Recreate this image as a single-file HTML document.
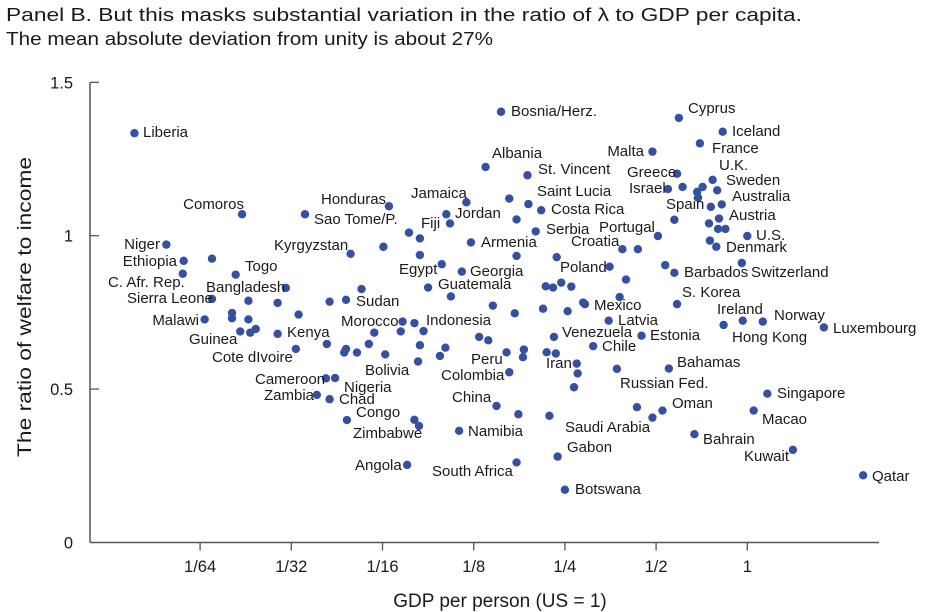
<!DOCTYPE html>
<html><head><meta charset="utf-8">
<style>
html,body{margin:0;padding:0;background:#fff;}
svg{display:block;font-family:"Liberation Sans",Arial,sans-serif;}
.lbl{font-size:15px;fill:#1a1a1a;}
</style></head>
<body>
<svg id="chart" width="930" height="612" viewBox="0 0 930 612">
<text x="6" y="21" font-size="18.5" fill="#1a1a1a" textLength="796" lengthAdjust="spacingAndGlyphs">Panel B. But this masks substantial variation in the ratio of λ to GDP per capita.</text>
<text x="6" y="45" font-size="18.5" fill="#1a1a1a" textLength="487" lengthAdjust="spacingAndGlyphs">The mean absolute deviation from unity is about 27%</text>
<text transform="translate(31,307) rotate(-90)" text-anchor="middle" font-size="19.5" fill="#1a1a1a" textLength="300" lengthAdjust="spacingAndGlyphs">The ratio of welfare to income</text>
<text x="500" y="607" text-anchor="middle" font-size="19" fill="#1a1a1a">GDP per person (US = 1)</text>
<g id="axes"></g>
<g id="dots"></g>
<g id="labels" class="lbl">
<text x="143" y="137">Liberia</text>
<text x="244" y="209" text-anchor="end">Comoros</text>
<text x="321" y="204">Honduras</text>
<text x="314" y="224">Sao Tome/P.</text>
<text x="411" y="198">Jamaica</text>
<text x="421" y="228">Fiji</text>
<text x="455" y="218">Jordan</text>
<text x="160" y="249" text-anchor="end">Niger</text>
<text x="177" y="266" text-anchor="end">Ethiopia</text>
<text x="274" y="250">Kyrgyzstan</text>
<text x="245" y="271">Togo</text>
<text x="108" y="287">C. Afr. Rep.</text>
<text x="206" y="292">Bangladesh</text>
<text x="127" y="303">Sierra Leone</text>
<text x="399" y="274">Egypt</text>
<text x="470" y="276">Georgia</text>
<text x="438" y="289">Guatemala</text>
<text x="356" y="306">Sudan</text>
<text x="481" y="247">Armenia</text>
<text x="199" y="325" text-anchor="end">Malawi</text>
<text x="189" y="344">Guinea</text>
<text x="287" y="337">Kenya</text>
<text x="212" y="362">Cote dIvoire</text>
<text x="341" y="326">Morocco</text>
<text x="426" y="325">Indonesia</text>
<text x="365" y="375">Bolivia</text>
<text x="471" y="364">Peru</text>
<text x="441" y="380">Colombia</text>
<text x="255" y="384">Cameroon</text>
<text x="344" y="392">Nigeria</text>
<text x="264" y="400">Zambia</text>
<text x="339" y="404">Chad</text>
<text x="356" y="417">Congo</text>
<text x="353" y="438">Zimbabwe</text>
<text x="452" y="402">China</text>
<text x="468" y="436">Namibia</text>
<text x="355" y="470">Angola</text>
<text x="432" y="476">South Africa</text>
<text x="511" y="116">Bosnia/Herz.</text>
<text x="688" y="113">Cyprus</text>
<text x="732" y="136">Iceland</text>
<text x="712" y="153">France</text>
<text x="644" y="156" text-anchor="end">Malta</text>
<text x="492" y="158">Albania</text>
<text x="538" y="174">St. Vincent</text>
<text x="627" y="177">Greece</text>
<text x="719" y="170">U.K.</text>
<text x="726" y="185">Sweden</text>
<text x="629" y="193">Israel</text>
<text x="537" y="196">Saint Lucia</text>
<text x="732" y="201">Australia</text>
<text x="551" y="214">Costa Rica</text>
<text x="666" y="209">Spain</text>
<text x="729" y="220">Austria</text>
<text x="546" y="234">Serbia</text>
<text x="599" y="232">Portugal</text>
<text x="756" y="240">U.S.</text>
<text x="571" y="246">Croatia</text>
<text x="726" y="252">Denmark</text>
<text x="560" y="272">Poland</text>
<text x="684" y="277">Barbados</text>
<text x="751" y="277">Switzerland</text>
<text x="682" y="297">S. Korea</text>
<text x="594" y="310">Mexico</text>
<text x="717" y="314">Ireland</text>
<text x="774" y="320">Norway</text>
<text x="833" y="333">Luxembourg</text>
<text x="618" y="325">Latvia</text>
<text x="562" y="337">Venezuela</text>
<text x="650" y="340">Estonia</text>
<text x="732" y="342">Hong Kong</text>
<text x="602" y="351">Chile</text>
<text x="546" y="368">Iran</text>
<text x="677" y="367">Bahamas</text>
<text x="620" y="388">Russian Fed.</text>
<text x="777" y="398">Singapore</text>
<text x="672" y="408">Oman</text>
<text x="762" y="424">Macao</text>
<text x="565" y="432">Saudi Arabia</text>
<text x="703" y="444">Bahrain</text>
<text x="567" y="452">Gabon</text>
<text x="744" y="461">Kuwait</text>
<text x="872" y="481">Qatar</text>
<text x="575" y="494">Botswana</text>
</g>
</svg>
<script>
// GDP per person relative to US, as log2 values
const gdpLog2 = [-6.72,-5.54,-4.85,-3.93,-3.08,-3.30,-3.26,-2.87,-3.71,-3.59,
-6.37,-6.18,-5.87,-4.35,-3.99,-3.03,-3.59,-6.19,-5.61,-3.35,
-3.13,-5.06,-4.23,-3.50,-3.25,-5.87,-5.47,-5.15,-4.58,-4.40,
-5.95,-5.65,-5.65,-5.47,-4.92,-3.78,-3.65,-2.94,-2.84,-5.56,
-5.45,-5.39,-5.15,-4.09,-3.80,-3.55,-4.95,-4.61,-4.40,-4.42,
-4.28,-4.15,-3.97,-3.59,-3.31,-3.37,-3.61,-4.62,-4.52,-4.72,
-4.58,-4.39,-3.65,-3.60,-3.16,-3.73,-2.70,-0.75,-0.27,-0.52,
-1.04,-2.41,-0.77,-0.71,-0.87,-0.55,-0.54,-0.49,-0.38,-0.33,
-2.61,-2.40,-2.26,-0.28,-0.40,-2.53,-0.31,-0.80,-0.42,-0.32,
-0.24,-2.32,-0.98,0.00,-0.41,-0.34,-1.37,-1.20,-2.53,-2.09,
-1.51,-0.90,-0.80,-0.06,-1.33,-2.21,-2.13,-2.04,-1.93,-2.79,
-2.55,-2.24,-1.97,-1.80,-1.78,-1.40,-0.77,-0.05,0.17,-0.26,
0.84,-1.52,-2.12,-1.16,-1.69,-2.64,-2.45,-2.46,-2.20,-2.10,
-1.87,-1.86,-1.90,-2.61,-1.43,-0.86,0.22,-2.75,-2.51,-2.17,
-1.21,-0.93,-1.04,0.07,-0.58,0.50,-2.08,-2.53,1.27,-2.00];
// ratio of welfare to income
const ratio = [1.334,1.070,1.070,1.096,1.109,1.070,1.040,1.224,1.010,0.991,
0.971,0.918,0.925,0.941,0.964,0.978,0.937,0.876,0.873,0.907,
0.883,0.830,0.826,0.831,0.802,0.794,0.788,0.781,0.785,0.791,
0.727,0.748,0.731,0.727,0.743,0.720,0.715,0.670,0.659,0.688,
0.684,0.696,0.680,0.684,0.688,0.689,0.631,0.647,0.631,0.619,
0.619,0.647,0.613,0.643,0.635,0.608,0.590,0.535,0.536,0.481,
0.467,0.399,0.400,0.380,0.364,0.253,1.404,1.384,1.339,1.301,
1.274,1.197,1.202,1.159,1.152,1.143,1.124,1.159,1.182,1.148,
1.121,1.103,1.083,1.102,1.094,1.053,1.056,1.052,1.040,1.022,
1.022,1.014,0.999,0.999,0.984,0.964,0.956,0.956,0.934,0.930,
0.899,0.904,0.879,0.911,0.857,0.835,0.831,0.847,0.834,0.772,
0.747,0.762,0.754,0.782,0.777,0.800,0.777,0.723,0.720,0.709,
0.701,0.723,0.670,0.674,0.640,0.620,0.629,0.604,0.620,0.616,
0.583,0.551,0.506,0.555,0.566,0.567,0.485,0.445,0.418,0.413,
0.441,0.430,0.407,0.430,0.353,0.302,0.280,0.261,0.219,0.172];
const xTickLog2 = [-6,-5,-4,-3,-2,-1,0];
const xTickLabels = ["1/64","1/32","1/16","1/8","1/4","1/2","1"];
const yTicks = [0,0.5,1,1.5];
const yTickLabels = ["0","0.5","1","1.5"];

const NS = "http://www.w3.org/2000/svg";
const X0 = 90, X1 = 879, Y0 = 542.5;
function xScale(l){ return 747.3 + 91.2 * l; }
function yScale(v){ return Y0 - 306.8 * v; }
function mk(tag, attrs, parent){
  const el = document.createElementNS(NS, tag);
  for (const k in attrs) el.setAttribute(k, attrs[k]);
  parent.appendChild(el);
  return el;
}
const axes = document.getElementById('axes');
const ax = "#555";
let e = mk('line', {x1:X0, y1:yScale(1.5), x2:X0, y2:Y0, stroke:ax, 'stroke-width':1.5}, axes);


e = mk('line', {x1:X0, y1:Y0, x2:X1, y2:Y0, stroke:ax, 'stroke-width':1.5}, axes);


yTicks.forEach((v, i) => {
  const y = yScale(v);
  if (v > 0) {
    const t = mk('line', {x1:X0, y1:y, x2:X0 + 9, y2:y, stroke:ax, 'stroke-width':1.3}, axes);
    
    
  }
  const tx = mk('text', {x:73, y:y + 6, 'text-anchor':'end', 'font-size':16.5, fill:'#1a1a1a'}, axes);
  tx.textContent = yTickLabels[i];
  
  
});
xTickLog2.forEach((l, i) => {
  const x = xScale(l);
  const t = mk('line', {x1:x, y1:Y0, x2:x, y2:Y0 + 8, stroke:ax, 'stroke-width':1.3}, axes);
  
  
  const tx = mk('text', {x:x, y:572, 'text-anchor':'middle', 'font-size':16.5, fill:'#1a1a1a'}, axes);
  tx.textContent = xTickLabels[i];
  
  
});
const dots = document.getElementById('dots');
gdpLog2.forEach((l, i) => {
  const c = mk('circle', {cx:xScale(l), cy:yScale(ratio[i]), r:4.2, fill:'#3550a3'}, dots);
  
  
});
</script>
</body></html>
